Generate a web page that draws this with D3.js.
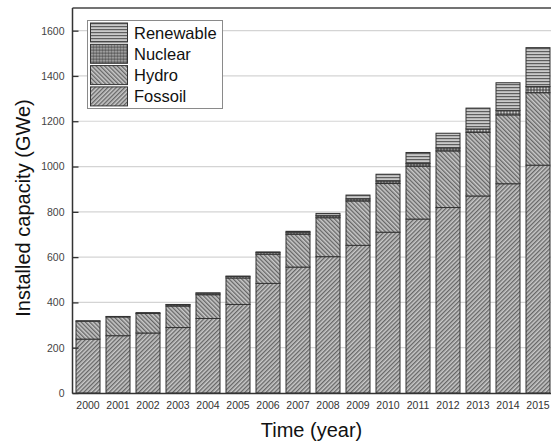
<!DOCTYPE html>
<html>
<head>
<meta charset="utf-8">
<script src="https://cdn.jsdelivr.net/npm/d3@7"></script>
<style>
  html, body { margin: 0; padding: 0; background: #fff; }
  svg { display: block; font-family: "Liberation Sans", Arial, Helvetica, sans-serif; }
</style>
</head>
<body>
<svg id="chart" width="551" height="445"></svg>
<script>
// ---- data ----
const years = ["2000","2001","2002","2003","2004","2005","2006","2007","2008","2009","2010","2011","2012","2013","2014","2015"];
const fossoil   = [238, 253, 265, 289, 329, 391, 484, 556, 602, 652, 710, 768, 819, 870, 924, 1006];
const hydro     = [79, 83, 86, 95, 105, 117, 129, 145, 172, 196, 215, 233, 250, 281, 304, 320];
const nuclear   = [2, 2, 4, 6, 7, 7, 7, 9, 9, 9, 11, 13, 13, 15, 20, 27];
const renewable = [0, 0, 0, 1, 1, 1, 3, 4, 10, 17, 30, 48, 65, 92, 122, 172];
const yTicks = [0, 200, 400, 600, 800, 1000, 1200, 1400, 1600];
const seriesKeys = ["Fossoil", "Hydro", "Nuclear", "Renewable"];
const legendKeys = ["Renewable", "Nuclear", "Hydro", "Fossoil"];

const rows = years.map((yr, i) => ({
  year: yr, Fossoil: fossoil[i], Hydro: hydro[i], Nuclear: nuclear[i], Renewable: renewable[i]
}));

const svg = d3.select("#chart");
const plotLeft = 72.5, plotTop = 8, plotBottom = 393;

// ---- patterns ----
const defs = svg.append("defs");
function hatch(id, angle) {
  const p = defs.append("pattern").attr("id", id).attr("patternUnits", "userSpaceOnUse")
    .attr("width", 3).attr("height", 3).attr("patternTransform", `rotate(${angle})`);
  p.append("rect").attr("width", 3).attr("height", 3).attr("fill", "#c9c9c9");
  p.append("line").attr("x1", 0.7).attr("y1", 0).attr("x2", 0.7).attr("y2", 3)
    .attr("stroke", "#5e5e5e").attr("stroke-width", 1.25);
}
hatch("pat-Fossoil", 45);
hatch("pat-Hydro", -45);
{
  const p = defs.append("pattern").attr("id", "pat-Renewable").attr("patternUnits", "userSpaceOnUse")
    .attr("width", 3).attr("height", 3);
  p.append("rect").attr("width", 3).attr("height", 3).attr("fill", "#cacaca");
  p.append("line").attr("x1", 0).attr("y1", 0.6).attr("x2", 3).attr("y2", 0.6)
    .attr("stroke", "#5e5e5e").attr("stroke-width", 1.2);
}
{
  const p = defs.append("pattern").attr("id", "pat-Nuclear").attr("patternUnits", "userSpaceOnUse")
    .attr("width", 3).attr("height", 3);
  p.append("rect").attr("width", 3).attr("height", 3).attr("fill", "#555");
  p.append("circle").attr("cx", 1.5).attr("cy", 1.5).attr("r", 1).attr("fill", "#cfcfcf");
}

// ---- scales ----
const x = d3.scaleBand().domain(years).range([73, 553]).paddingInner(0.2).paddingOuter(0.1);
const y = d3.scaleLinear().domain([0, 1700]).range([plotBottom, plotTop]);

// ---- gridlines ----
svg.append("g").selectAll("line").data(yTicks.filter(d => d > 0)).join("line")
  .attr("x1", plotLeft).attr("x2", 551)
  .attr("y1", d => y(d)).attr("y2", d => y(d))
  .attr("stroke", "#d4d4d4").attr("stroke-width", 1.2);

// ---- bars ----
const stack = d3.stack().keys(seriesKeys)(rows);
svg.append("g").selectAll("g").data(stack).join("g")
  .attr("fill", s => `url(#pat-${s.key})`)
  .selectAll("rect").data(s => s.filter(d => d[1] - d[0] > 0)).join("rect")
  .attr("x", d => x(d.data.year))
  .attr("width", x.bandwidth())
  .attr("y", d => y(d[1]))
  .attr("height", d => y(d[0]) - y(d[1]))
  .attr("stroke", "#333").attr("stroke-width", 1);

// ---- frame ----
svg.append("line").attr("x1", plotLeft).attr("x2", 551).attr("y1", plotTop).attr("y2", plotTop)
  .attr("stroke", "#444").attr("stroke-width", 1.5);

// ---- axes ----
const yAxis = svg.append("g").attr("transform", `translate(${plotLeft},0)`)
  .call(d3.axisLeft(y).tickValues(yTicks).tickFormat(d3.format("d"))
    .tickSize(-6).tickPadding(8).tickSizeOuter(0));
yAxis.select(".domain").attr("stroke", "#333").attr("stroke-width", 1.5)
  .attr("d", `M0,${plotTop}V${plotBottom + 0.5}`);
yAxis.selectAll(".tick line").attr("stroke", "#333").attr("stroke-width", 1.3);
yAxis.selectAll(".tick text").attr("fill", "#444").style("font-size", "10.5px")
  .style("font-family", '"Liberation Sans", Arial, sans-serif');

const xAxis = svg.append("g").attr("transform", `translate(0,${plotBottom})`)
  .call(d3.axisBottom(x).tickSize(0).tickPadding(9));
xAxis.select(".domain").attr("stroke", "#333").attr("stroke-width", 1.5)
  .attr("d", `M${plotLeft},0.5H551`);
xAxis.selectAll(".tick text").attr("fill", "#333").style("font-size", "10.5px")
  .style("font-family", '"Liberation Sans", Arial, sans-serif');

// ---- titles ----
svg.append("text").attr("x", 311.5).attr("y", 437).attr("text-anchor", "middle")
  .attr("fill", "#111").style("font-size", "20px").text("Time (year)");
svg.append("text").attr("transform", "translate(30,208) rotate(-90)").attr("text-anchor", "middle")
  .attr("fill", "#111").style("font-size", "20px").text("Installed capacity (GWe)");

// ---- legend ----
const lg = svg.append("g");
lg.append("rect").attr("x", 87.5).attr("y", 20.5).attr("width", 135).attr("height", 88)
  .attr("fill", "#fff").attr("stroke", "#8a8a8a").attr("stroke-width", 1);
const item = lg.selectAll("g.item").data(legendKeys).join("g").attr("class", "item")
  .attr("transform", (d, i) => `translate(90.5,${23 + i * 21.3})`);
item.append("rect").attr("width", 37).attr("height", 19)
  .attr("fill", d => `url(#pat-${d})`).attr("stroke", "#333").attr("stroke-width", 1);
item.append("text").attr("x", 43.5).attr("y", 15.5).attr("fill", "#111")
  .style("font-size", "16.5px").text(d => d);
</script>
</body>
</html>
